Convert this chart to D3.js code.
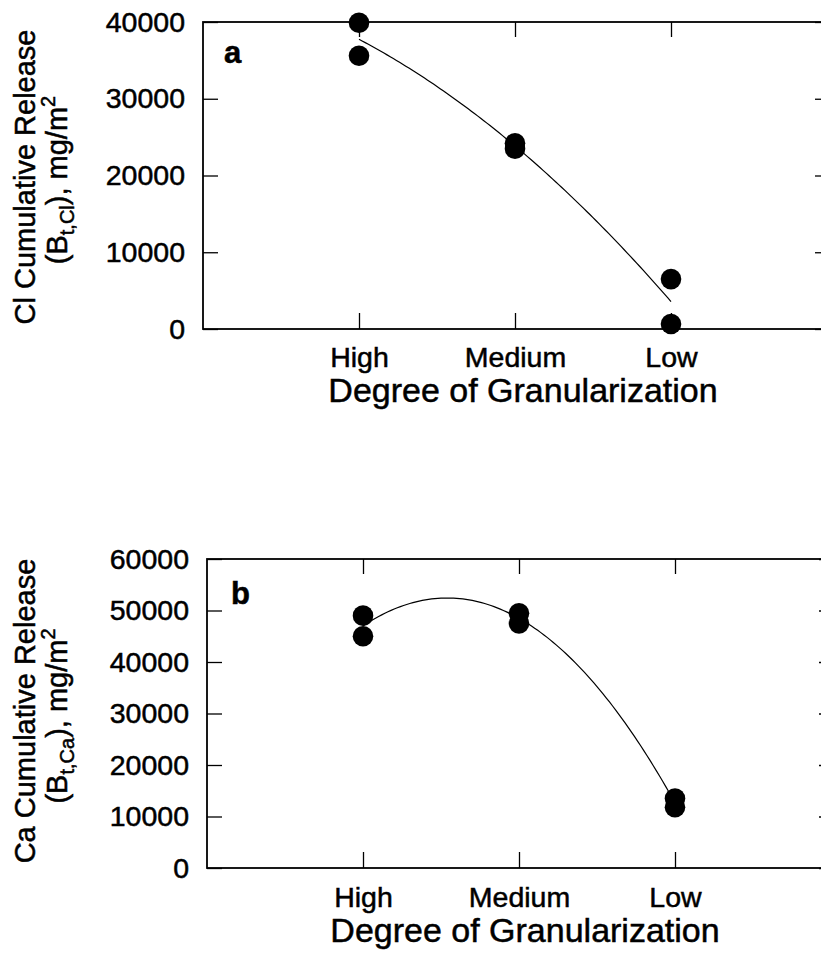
<!DOCTYPE html>
<html>
<head>
<meta charset="utf-8">
<script src="https://cdn.jsdelivr.net/npm/d3@7"></script>
<style>
  body { margin: 0; background: #fff; }
  svg { display: block; font-family: "Liberation Sans", Arial, Helvetica, sans-serif; }
  svg text { stroke: #000; stroke-width: 0.5px; fill: #000; }
  .tickText { font-size: 28.5px; }
</style>
</head>
<body>
<svg id="chart" width="821" height="976"></svg>
<script>
// categories on the x axis (placed at 1, 2, 3 on a 0..4 scale)
const categories = ["High", "Medium", "Low"];
const catPos = [1, 2, 3];

const clValues = [[39900, 35600], [24200, 23500], [6500, 650]];
const caValues = [[49000, 45000], [49450, 47500], [13500, 11800]];

const clTicks = [0, 10000, 20000, 30000, 40000];
const caTicks = [0, 10000, 20000, 30000, 40000, 50000, 60000];

const svg = d3.select("#chart");

// least squares quadratic through all points
function quadFit(pts) {
  let S = [0, 0, 0, 0, 0], T = [0, 0, 0];
  pts.forEach(([x, y]) => {
    for (let k = 0; k < 5; k++) S[k] += Math.pow(x, k);
    for (let k = 0; k < 3; k++) T[k] += y * Math.pow(x, k);
  });
  const A = [[S[0], S[1], S[2], T[0]], [S[1], S[2], S[3], T[1]], [S[2], S[3], S[4], T[2]]];
  for (let i = 0; i < 3; i++) {
    for (let j = i + 1; j < 3; j++) {
      const f = A[j][i] / A[i][i];
      for (let k = i; k < 4; k++) A[j][k] -= f * A[i][k];
    }
  }
  const c = [0, 0, 0];
  for (let i = 2; i >= 0; i--) {
    let s = A[i][3];
    for (let k = i + 1; k < 3; k++) s -= A[i][k] * c[k];
    c[i] = s / A[i][i];
  }
  return (x) => c[0] + c[1] * x + c[2] * x * x;
}

function drawPanel(p) {
  const g = svg.append("g");
  const x = d3.scaleLinear().domain([0, 4]).range([p.left, p.right]);
  const y = d3.scaleLinear().domain([0, d3.max(p.ticks)]).range([p.bottom, p.top]);

  // frame
  g.append("rect")
    .attr("x", p.left).attr("y", p.top)
    .attr("width", p.right - p.left).attr("height", p.bottom - p.top)
    .attr("fill", "none").attr("stroke", "#000").attr("stroke-width", 1.8);

  const left = g.append("g")
    .attr("transform", `translate(${p.left},0)`)
    .call(d3.axisLeft(y).tickValues(p.ticks).tickSize(-15).tickPadding(18).tickFormat(d3.format("d")));
  left.select(".domain").remove();
  left.selectAll("text").attr("class", "tickText").attr("font-size", null).attr("font-family", null);

  const right = g.append("g")
    .attr("transform", `translate(${p.right},0)`)
    .call(d3.axisRight(y).tickValues(p.ticks).tickSize(-12).tickFormat(""));
  right.select(".domain").remove();

  const top = g.append("g")
    .attr("transform", `translate(0,${p.top})`)
    .call(d3.axisTop(x).tickValues(catPos).tickSize(-15).tickFormat(""));
  top.select(".domain").remove();

  const bottom = g.append("g")
    .attr("transform", `translate(0,${p.bottom})`)
    .call(d3.axisBottom(x).tickValues(catPos).tickSize(-16).tickPadding(p.xPad)
      .tickFormat((d, i) => categories[i]));
  bottom.select(".domain").remove();
  bottom.selectAll("text").attr("class", "tickText").attr("font-size", null).attr("font-family", null);

  g.selectAll(".tick line").attr("stroke", "#000").attr("stroke-width", 1.3);

  // fitted curve
  const pts = [];
  p.values.forEach((vals, i) => vals.forEach((v) => pts.push([catPos[i], v])));
  const fit = quadFit(pts);
  const curve = d3.range(1, 3.0001, 0.02).map((t) => [t, fit(t)]);
  g.append("path")
    .datum(curve)
    .attr("fill", "none")
    .attr("stroke", "#000")
    .attr("stroke-width", 1.2)
    .attr("d", d3.line().x((d) => x(d[0])).y((d) => y(d[1])));

  // points
  g.selectAll(".dot")
    .data(pts)
    .enter().append("circle")
    .attr("class", "dot")
    .attr("cx", (d) => x(d[0]))
    .attr("cy", (d) => y(d[1]))
    .attr("r", 10.3)
    .attr("fill", "#000");

  // panel letter
  g.append("text")
    .attr("x", p.letterX).attr("y", p.letterY)
    .attr("font-size", 31).attr("font-weight", "bold")
    .text(p.letter);

  // y title, two lines
  g.append("text")
    .attr("transform", `translate(35,${p.yMid1}) rotate(-90)`)
    .attr("text-anchor", "middle")
    .attr("font-size", 29)
    .text(p.yTitle);

  const t2 = g.append("text")
    .attr("transform", `translate(67,${p.yMid2}) rotate(-90)`)
    .attr("text-anchor", "middle")
    .attr("font-size", 29);
  t2.append("tspan").text("(B");
  t2.append("tspan").attr("font-size", 20).attr("dy", 7).text(p.sub);
  t2.append("tspan").attr("dy", -7).text("), mg/m");
  t2.append("tspan").attr("font-size", 20).attr("dy", -12).text("2");

  // x title
  g.append("text")
    .attr("x", p.xTitleX).attr("y", p.xTitleY)
    .attr("text-anchor", "middle")
    .attr("font-size", 34)
    .text("Degree of Granularization");
}

drawPanel({
  top: 22, bottom: 329, left: 203, right: 827,
  ticks: clTicks, values: clValues, xPad: 18,
  letter: "a", letterX: 224, letterY: 63,
  yTitle: "Cl Cumulative Release", sub: "t,Cl", yMid1: 177, yMid2: 180,
  xTitleX: 523, xTitleY: 402
});

drawPanel({
  top: 559, bottom: 868, left: 207, right: 831,
  ticks: caTicks, values: caValues, xPad: 19,
  letter: "b", letterX: 231, letterY: 604,
  yTitle: "Ca Cumulative Release", sub: "t,Ca", yMid1: 711, yMid2: 716,
  xTitleX: 525, xTitleY: 942
});
</script>
</body>
</html>
